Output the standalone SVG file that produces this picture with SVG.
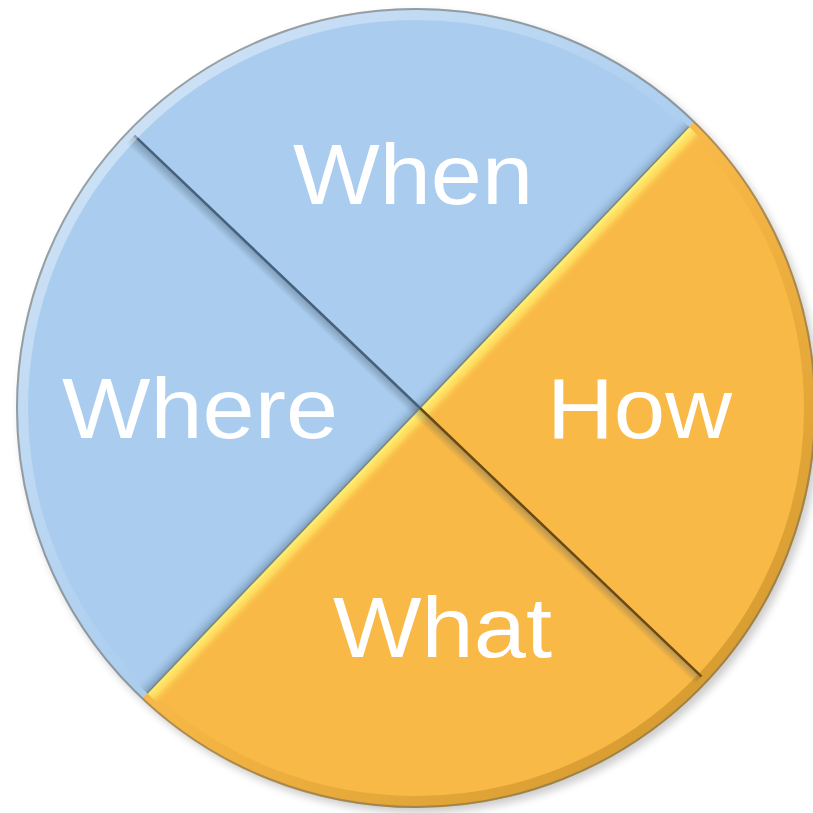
<svg xmlns="http://www.w3.org/2000/svg" width="813" height="813" viewBox="0 0 813 813">
  <defs>
    <style>
      .blue { fill: #AACDEF; }
      .orange { fill: #F9B946; }
      .lbl { font-family: "Liberation Sans", Arial, sans-serif; font-size: 85px; fill: #FFFFFF; }
    </style>
    <clipPath id="disc">
      <circle cx="416" cy="408" r="400"/>
    </clipPath>
    <clipPath id="inner">
      <circle cx="416" cy="408" r="392"/>
    </clipPath>
    <filter id="shadow" x="-10%" y="-10%" width="120%" height="120%">
      <feGaussianBlur stdDeviation="4"/>
    </filter>
    <linearGradient id="gYellow" gradientUnits="userSpaceOnUse" x1="420" y1="408" x2="432.3" y2="419.8">
      <stop offset="0" stop-color="#FFF27A" stop-opacity="1"/>
      <stop offset="0.5" stop-color="#FFE060" stop-opacity="0.8"/>
      <stop offset="1" stop-color="#F9B946" stop-opacity="0"/>
    </linearGradient>
    <linearGradient id="gBlueShade" gradientUnits="userSpaceOnUse" x1="420" y1="408" x2="409.9" y2="398.3">
      <stop offset="0" stop-color="#6F8FB0" stop-opacity="0.75"/>
      <stop offset="1" stop-color="#AACDEF" stop-opacity="0"/>
    </linearGradient>
    <linearGradient id="gAShade" gradientUnits="userSpaceOnUse" x1="420" y1="408" x2="412.4" y2="416">
      <stop offset="0" stop-color="#3E4E5E" stop-opacity="0.4"/>
      <stop offset="1" stop-color="#3E4E5E" stop-opacity="0"/>
    </linearGradient>
    <linearGradient id="gRim" gradientUnits="userSpaceOnUse" x1="130" y1="120" x2="700" y2="700">
      <stop offset="0" stop-color="#FFFFFF" stop-opacity="0.4"/>
      <stop offset="0.45" stop-color="#FFFFFF" stop-opacity="0.05"/>
      <stop offset="0.6" stop-color="#8A5A00" stop-opacity="0.05"/>
      <stop offset="1" stop-color="#8A5A00" stop-opacity="0.3"/>
    </linearGradient>
  </defs>

  <rect width="813" height="813" fill="#FFFFFF"/>

  <circle cx="420" cy="413" r="400" fill="#000000" opacity="0.2" filter="url(#shadow)"/>

  <g clip-path="url(#disc)">
    <g id="when">
      <polygon class="blue" points="420,408 -14,-6 835,-26"/>
    </g>
    <g id="how">
      <polygon class="orange" points="420,408 835,-26 854,822"/>
    </g>
    <g id="what">
      <polygon class="orange" points="420,408 854,822 5,842"/>
    </g>
    <g id="where">
      <polygon class="blue" points="420,408 5,842 -14,-6"/>
    </g>
  </g>

  <g id="connectors">
    <g clip-path="url(#inner)">
      <polygon fill="url(#gYellow)" points="835,-26 5,842 22,858 852,-10"/>
      <polygon fill="url(#gBlueShade)" points="835,-26 5,842 -12,826 818,-42"/>
      <polygon fill="url(#gAShade)" points="-14,-6 854,822 840,837 -28,9"/>
      <line x1="835" y1="-26" x2="5" y2="842" stroke="#6F7766" stroke-width="1.5" stroke-opacity="0.75"/>
      <line x1="-14" y1="-6" x2="420" y2="408" stroke="#45617D" stroke-width="2.5"/>
      <line x1="420" y1="408" x2="854" y2="822" stroke="#6A4A12" stroke-width="2.5"/>
    </g>
  </g>

  <circle cx="416" cy="408" r="394" fill="none" stroke="url(#gRim)" stroke-width="12"/>
  <circle cx="416" cy="408" r="399" fill="none" stroke="#6E6A5E" stroke-opacity="0.55" stroke-width="2"/>

  <text class="lbl" x="293" y="204" textLength="240" lengthAdjust="spacingAndGlyphs">When</text>
  <text class="lbl" x="62" y="438" textLength="276" lengthAdjust="spacingAndGlyphs">Where</text>
  <text class="lbl" x="547" y="438" textLength="185" lengthAdjust="spacingAndGlyphs">How</text>
  <text class="lbl" x="333" y="657" textLength="219" lengthAdjust="spacingAndGlyphs">What</text>
</svg>
